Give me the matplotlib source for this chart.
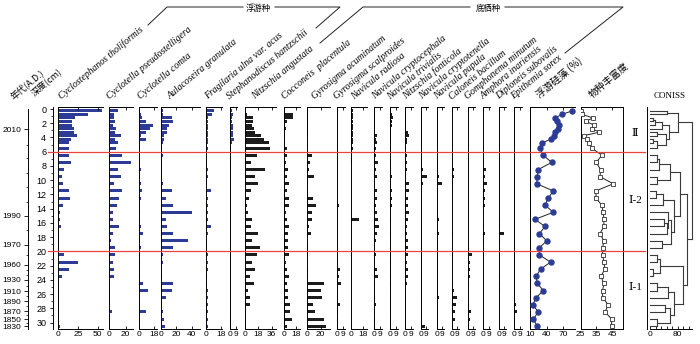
import matplotlib
matplotlib.use("Agg")
import matplotlib.pyplot as plt
from matplotlib.lines import Line2D
from matplotlib.transforms import blended_transform_factory

# -----------------------------
# Data
# -----------------------------

depths = [0.25, 0.75, 1.25, 1.75, 2.25, 2.75, 3.25, 3.75, 4.25, 4.75, 5.5,
          6.5, 7.5, 8.5, 9.5, 10.5, 11.5, 12.5, 13.5, 14.5, 15.5, 16.5, 17.5, 18.5, 19.5,
          20.5, 21.5, 22.5, 23.5, 24.5, 25.5, 26.5, 27.5, 28.5, 29.5, 30.5]

# planktonic taxa (%)
cyclostephanos = [55, 38, 21, 18, 17, 20, 20, 24, 16, 13, 13,
                  13, 16, 7, 5, 6, 13, 15, 6, 2, 2.5, 4, 1, 1, 1,
                  7, 25, 13, 5, 0.5, 0.5, 0.8, 0.8, 1, 1, 2.5]
pseudostelligera = [10, 6, 6, 7, 5, 8, 7, 14, 7, 10, 8,
                    15, 26, 11, 14, 6, 15, 12, 9, 4, 4, 12, 4, 2, 7,
                    7, 5, 6, 6, 1, 1, 1, 1, 3, 1, 1]
comta = [1, 2, 3, 8, 17, 13, 8, 2, 8, 1, 1,
         0.5, 1, 2, 1, 2, 3, 2.5, 1, 0.5, 0.5, 2.5, 4, 0.5, 2,
         0.5, 0.5, 0.5, 0.5, 4, 11, 1, 1, 8, 1, 1]
aulacoseira = [3, 3, 14, 15, 10, 8, 8, 4, 4, 2, 1,
               2, 1, 1, 1, 3, 14, 7, 16, 41, 6.5, 8, 15, 35, 16,
               2, 2, 1, 1, 16, 14, 6.5, 1, 2, 3.5, 5]
fragilaria = [10, 7, 3, 3, 3, 3, 3, 3, 2.5, 2.5, 2,
              1, 1, 2, 2, 1, 6, 3, 2, 2, 2, 6, 2, 1, 1,
              2, 2, 2, 1, 1, 2, 2.5, 2.5, 2, 2.5, 2.5]
stephanodiscus = [2.5, 5, 3.5, 3.5, 5, 5, 5, 4, 7, 3.5, 2,
                  0.5, 1, 0.3, 0.3, 0.3, 0.3, 0.3, 0.3, 0.3, 0.3, 0.3, 0.3, 0.3, 0.3,
                  0.3, 0.3, 0.3, 0.3, 0.3, 0.3, 0.3, 0.3, 0.3, 1, 1]

# benthic taxa (%)
angustata = [2, 3, 11, 11, 9, 12, 13, 21, 25, 33, 34,
             16, 8, 27, 13, 17, 8, 5, 3, 4, 10, 8, 18, 10, 20,
             16, 9, 13, 7, 12, 4, 7, 7, 1, 1, 1]
cocconeis = [1.5, 13, 13, 4, 2, 3.5, 2, 1, 0.5, 1.5, 4,
             5, 2.5, 6.5, 4, 8, 5, 8, 7, 3.5, 4.5, 8, 6, 6.5, 6,
             8, 3.5, 5, 8, 4.5, 6, 6, 9, 9, 11.5, 4.5]
g_acuminatum = [1, 1.5, 1.5, 1.5, 1.5, 2.5, 1.5, 1, 1, 1, 1,
                7.5, 5, 3.5, 10.5, 2, 1, 8.5, 13, 7.5, 7, 3, 6, 1, 2.5,
                1, 0.5, 2.5, 2, 24, 21, 22, 8.5, 12.5, 25, 28]
g_scalproides = [0, 0, 0, 0, 0, 0, 0, 0, 0, 0, 0,
                 0.3, 0.3, 0.3, 0.3, 0.3, 0.3, 0.3, 3.5, 0.3, 0.3, 0.3, 0.3, 0.3, 0.3,
                 0.3, 0.3, 5, 4, 6, 1.5, 1.5, 4.5, 1.5, 2, 1]
radiosa = [2.5, 3.5, 3.5, 3.5, 3.5, 3.5, 3.5, 3.5, 3.5, 3.5, 2.5,
           0.5, 1, 0.5, 0.5, 0.5, 0.5, 0.5, 0.5, 0.5, 12, 0.5, 0.5, 0.5, 0.5,
           0.5, 0.5, 0.5, 0.5, 0.5, 0.5, 0.5, 0.5, 0.5, 0.5, 0.5]
cryptocephala = [0.5, 0.5, 0.5, 0.5, 0.5, 0.5, 0.5, 3.5, 2.5, 4, 2,
                 2.5, 6, 2, 3.5, 1.5, 3.5, 3.5, 3, 4.5, 6, 8, 4.5, 2, 1.5,
                 2.5, 1.5, 5, 5.5, 0.5, 1, 0.5, 2.5, 0.5, 0.5, 0.5]
trivialis = [1.5, 2.5, 5, 3.5, 2.5, 2, 2, 2, 2, 2, 1.5,
             2, 1.5, 0.5, 3.5, 2, 2.5, 3, 3, 0.5, 1, 0.5, 1, 0, 0.5,
             1.5, 1.5, 2, 1, 1, 0.5, 0, 2, 0.5, 0.5, 0.5]
fonticola = [1.5, 1.5, 1.5, 1.5, 1.5, 1.5, 4.5, 6, 3, 2, 1.5,
             2, 2.5, 2, 1.5, 6, 6, 3.5, 4.5, 6, 4.5, 3, 3, 4, 3.5,
             3.5, 2.5, 4, 3.5, 2.5, 1.5, 1, 1, 0.5, 0.5, 0.5]
cryptotenella = [0, 0, 0, 1, 0, 0, 0, 0, 0, 0, 1,
                 1.5, 1, 4.5, 10, 3.5, 2, 2, 2.5, 2, 1.5, 1, 1, 1, 1,
                 1, 1, 2, 1, 0.5, 0.5, 2, 1.5, 1, 1, 7]
pupula = [0.5, 1, 1, 0.5, 0.5, 0.5, 0.5, 0.5, 0.5, 0.5, 0.5,
          0.5, 0.5, 1.5, 3.5, 9, 1.5, 2.5, 1.5, 1.5, 3, 2, 4, 1, 1,
          1, 1, 1, 2, 0.5, 0.5, 3, 1, 1.5, 1, 1]
caloneis = [0, 0, 0, 0, 0, 0, 0, 0, 0, 0, 0,
            1.5, 0.5, 4, 4, 2, 0.5, 0.5, 0.5, 0.5, 0.5, 0.5, 1.5, 0.5, 0.5,
            0.5, 0.5, 0.5, 0.5, 2, 3, 8, 7, 5, 5, 0.5]
gomphonema = [0, 0, 0, 0, 0, 0, 0, 0, 0, 0, 0,
              0.3, 0.3, 0.3, 0.3, 0.3, 0.3, 0.3, 0.3, 0.3, 0.3, 0.3, 0.3, 0.3, 0.3,
              7, 3, 3.5, 3, 2, 1, 0.5, 1.5, 4.5, 3, 1.5]
amphora = [0, 0, 0, 0, 0, 0, 0, 0, 0, 0, 0.5,
           1.5, 0.5, 4.5, 3, 6, 2.5, 2, 2, 0.5, 0.3, 0.5, 3, 0.5, 0.3,
           0.3, 0.3, 0.3, 0.3, 0.3, 0.3, 0.3, 0.3, 0.3, 0.3, 0.3]
diploneis = [0, 0, 0, 0, 0, 0, 0, 0, 0, 0, 0,
             0.5, 0.5, 0.5, 0.5, 0.5, 0.5, 0.5, 0.5, 0.5, 2.5, 1.5, 9, 2, 1,
             0.5, 0.5, 1, 2.5, 1.5, 1.5, 0.5, 0.5, 0.5, 0.5, 0.5]
epithemia = [0, 0, 0, 0, 0, 0, 0, 0, 0, 0, 0,
             0, 0, 0, 0, 0, 0, 0, 0, 0, 0, 0, 0, 0, 0,
             0, 0, 0, 0, 0, 0.5, 2, 3, 5, 1.5, 1]

planktonic_pct = [86, 68, 55, 58, 63, 60, 55, 53, 47, 32, 28,
                  34, 49, 25, 23, 22, 52, 43, 37, 52, 19, 37, 27, 40, 27,
                  27, 47, 29, 21, 23, 34, 21, 15, 25, 16, 23]
richness = [25.5, 26, 32.6, 28.4, 33.4, 32, 36.8, 27, 28.8, 30.4, 32,
            38.5, 34.7, 37.7, 37.2, 45.6, 34.7, 34.7, 38.3, 39.3, 39.7, 39.7, 37.2, 39.7, 38.9,
            38.9, 39.7, 40.4, 37.7, 39.7, 38.9, 38.9, 42.5, 40.4, 44.6, 44.6]

species_names = ["Cyclostephanos tholiformis", "Cyclotella pseudostelligera", "Cyclotella comta",
                 "Aulacoseira granulata", "Fragilaria ulna var. acus", "Stephanodiscus hantzschii",
                 "Nitzschia angustata", "Cocconeis  placentula", "Gyrosigma acuminatum",
                 "Gyrosigma scalproides", "Navicula radiosa", "Navicula cryptocephala",
                 "Navicula trivialis", "Nitzschia fonticola", "Navicula cryptotenella",
                 "Navicula pupula", "Caloneis bacillum", "Gomphonema minutum",
                 "Amphora inariensis", "Diploneis subovalis", "Epithemia sorex"]
species_values = [cyclostephanos, pseudostelligera, comta, aulacoseira, fragilaria, stephanodiscus,
                  angustata, cocconeis, g_acuminatum, g_scalproides, radiosa, cryptocephala,
                  trivialis, fonticola, cryptotenella, pupula, caloneis, gomphonema,
                  amphora, diploneis, epithemia]
n_planktonic = 6

# age scale (A.D.) against depth
age_labels = ["2010", "1990", "1970", "1960", "1930", "1910", "1890", "1870", "1850", "1830"]
age_depths = [2.85, 15.0, 19.07, 21.9, 24.0, 25.6, 27.0, 28.4, 29.5, 30.5]
age_minor_depths = [5.0, 6.9, 9.0, 11.0, 13.0, 17.0, 20.5, 22.6, 23.3, 24.8, 26.3, 27.7, 29.0, 30.0]

zone_bounds = [6, 20]
zone_names = ["Ⅱ", "Ⅰ-2", "Ⅰ-1"]
zone_label_depths = [3.4, 12.8, 25.1]

# CONISS tree: (child, child, total sum of squares); leaves are sample indices
coniss_merges = [
    (0, 1, 48), (2, 3, 8), (37, 4, 15), (38, 5, 34), (6, 7, 20),
    (8, 9, 10), (41, 10, 20), (40, 42, 45), (39, 43, 55), (36, 44, 82),
    (11, 12, 19), (46, 13, 25), (14, 15, 20), (47, 48, 58), (16, 17, 17),
    (50, 18, 38), (20, 21, 40), (52, 22, 48), (19, 53, 52), (23, 24, 34),
    (54, 55, 60), (51, 56, 68), (49, 57, 87),
    (25, 26, 19), (27, 28, 8), (59, 60, 29), (29, 30, 19), (62, 31, 53),
    (32, 33, 43), (34, 35, 19), (64, 65, 58), (63, 66, 68), (61, 67, 96),
    (58, 68, 106), (45, 69, 121),
]

# -----------------------------
# Layout (pixels in a 700x344 canvas)
# -----------------------------

W, H = 700, 344
Y_TOP, Y_BOT = 107.3, 329.3
YLIM = (30.94, -0.24)

# left px, reference tick value, its px, right px, ticks, label x shift
panel_layout = [
    (58.3, 50, 97.7, 103.0, [0, 25, 50], 3),
    (109.3, 20, 125.7, 133.3, [0, 20], 0),
    (139.3, 18, 154.0, 156.7, [0, 18], 1),
    (161.0, 40, 191.7, 200.0, [0, 20, 40], 9),
    (206.0, 18, 220.7, 222.0, [0, 18], 2),
    (230.0, 9, 235.7, 237.0, [0, 9], 0),
    (245.0, 36, 271.7, 276.0, [0, 18, 36], 10),
    (284.0, 18, 296.0, 300.0, [0, 18], 1),
    (306.7, 20, 320.7, 330.0, [0, 20], 8),
    (336.7, 9, 342.7, 345.0, [0, 9], 0),
    (351.0, 18, 363.3, 366.7, [0, 18], 3),
    (374.3, 9, 380.0, 381.7, [0, 9], 0),
    (390.0, 9, 395.7, 397.5, [0, 9], 0),
    (405.3, 9, 411.0, 413.0, [0, 9], 0),
    (420.7, 9, 426.0, 428.0, [0, 9], 1),
    (436.7, 9, 442.3, 444.0, [0, 9], 0),
    (452.0, 9, 457.3, 459.5, [0, 9], 0),
    (467.7, 9, 473.3, 475.0, [0, 9], 0),
    (483.3, 9, 489.0, 490.5, [0, 9], 0),
    (498.7, 9, 504.3, 506.0, [0, 9], 0),
    (514.0, 9, 520.0, 521.5, [0, 9], 0),
]

BLUE = "#2c3c96"
DARK = "#1c1c1c"
RED = "#e8453c"

plt.rcParams["font.family"] = ["Liberation Sans", "Noto Sans CJK SC"]
plt.rcParams["axes.linewidth"] = 0.7

fig = plt.figure(figsize=(W / 100, H / 100), dpi=100)


def px_axes(x0, x1):
    return fig.add_axes([x0 / W, (H - Y_BOT) / H, (x1 - x0) / W, (Y_BOT - Y_TOP) / H])


def style_panel(ax, xlim, ticks, labels=None):
    ax.set_ylim(*YLIM)
    ax.set_xlim(*xlim)
    ax.set_yticks([])
    ax.spines["right"].set_visible(False)
    ax.set_xticks(ticks)
    ax.set_xticklabels(labels if labels is not None else [str(t) for t in ticks])
    ax.tick_params(axis="x", direction="in", top=True, bottom=True, length=2.5,
                   width=0.6, labelsize=6, pad=1.5)
    ax.patch.set_alpha(0)


def fig_text(x, y, s, **kw):
    return fig.text(x / W, 1 - y / H, s, **kw)


def fig_line(xs, ys, **kw):
    fig.add_artist(Line2D([x / W for x in xs], [1 - y / H for y in ys],
                          transform=fig.transFigure, **kw))


# species bar panels
first_ax = None
for i, (name, vals) in enumerate(zip(species_names, species_values)):
    left, tv, tpx, right, ticks, dx = panel_layout[i]
    ax = px_axes(left, right)
    xmax = tv * (right - left) / (tpx - left)
    color = BLUE if i < n_planktonic else DARK
    ax.barh(depths, vals, height=0.42, color=color, linewidth=0)
    style_panel(ax, (0, xmax), ticks)
    if first_ax is None:
        first_ax = ax
    fig_text(left + dx, 99.5, name, rotation=40, rotation_mode="anchor", ha="left",
             va="baseline", fontsize=7, family="Liberation Serif", style="italic")

# planktonic diatom percentage
ax_p = px_axes(530, 575)
ax_p.plot(planktonic_pct, depths, "-", color="#222222", lw=0.7, marker="o", ms=3.6,
          mfc=BLUE, mec=BLUE, zorder=3)
style_panel(ax_p, (10, 91), [10, 40, 70])
fig_text(540, 98.5, "浮游硅藻 (%)", rotation=40, rotation_mode="anchor", ha="left",
         va="baseline", fontsize=7, family=["Noto Sans CJK SC"])

# species richness
ax_r = px_axes(580.7, 623.3)
ax_r.plot(richness, depths, "-", color="#222222", lw=0.7, marker="s", ms=3.2,
          mfc="white", mec="#333333", mew=0.6, zorder=3)
style_panel(ax_r, (25, 52), [25, 35, 45])
ax_r.spines["right"].set_visible(True)
fig_text(592, 98.5, "物种丰富度", rotation=40, rotation_mode="anchor", ha="left",
         va="baseline", fontsize=7, family=["Noto Sans CJK SC"])

# CONISS dendrogram
ax_c = px_axes(646.7, 695)
ax_c.set_ylim(*YLIM)
ax_c.set_xlim(-9.5, (695 - 650) / 0.346)
n_leaf = len(depths)
ypos = {i: d for i, d in enumerate(depths)}
xpos = {i: 0.0 for i in range(n_leaf)}
for k, (a, b, h) in enumerate(coniss_merges):
    for c in (a, b):
        ax_c.plot([xpos[c], h], [ypos[c], ypos[c]], color="#3a3a3a", lw=0.8)
    ax_c.plot([h, h], [ypos[a], ypos[b]], color="#3a3a3a", lw=0.8)
    ypos[n_leaf + k] = (ypos[a] + ypos[b]) / 2
    xpos[n_leaf + k] = h
ax_c.set_yticks([])
for s in ("top", "right"):
    ax_c.spines[s].set_visible(False)
ax_c.spines["bottom"].set_bounds(0, 120)
ax_c.set_xticks(list(range(0, 113, 16)))
ax_c.set_xticklabels(["0" if t == 0 else ("80" if t == 80 else "") for t in range(0, 113, 16)])
ax_c.tick_params(axis="x", direction="in", length=2.5, width=0.6, labelsize=6, pad=1.5)
ax_c.patch.set_alpha(0)
fig_text(670, 98, "CONISS", ha="center", va="baseline", fontsize=6.5, family="Liberation Serif")

# depth axis
ax_d = px_axes(52.5, 53)
ax_d.set_ylim(*YLIM)
ax_d.set_xticks([])
for s in ("top", "right", "bottom"):
    ax_d.spines[s].set_visible(False)
ax_d.set_yticks(list(range(0, 31, 2)))
ax_d.set_yticks(list(range(1, 31, 2)), minor=True)
ax_d.tick_params(axis="y", which="major", direction="out", length=2.5, width=0.6, labelsize=6.5, pad=2)
ax_d.tick_params(axis="y", which="minor", direction="out", length=1.5, width=0.5)

# age axis
ax_a = px_axes(28.3, 28.8)
ax_a.set_ylim(*YLIM)
ax_a.set_xticks([])
for s in ("top", "right", "bottom"):
    ax_a.spines[s].set_visible(False)
ax_a.spines["left"].set_bounds(0, 30.9)
ax_a.set_yticks(age_depths)
ax_a.set_yticklabels(age_labels)
ax_a.set_yticks(age_minor_depths, minor=True)
ax_a.tick_params(axis="y", which="major", direction="out", length=3, width=0.6, labelsize=6, pad=2)
ax_a.tick_params(axis="y", which="minor", direction="out", length=1.5, width=0.5)

fig_text(13, 100, "年代(A.D.)", rotation=40, rotation_mode="anchor", ha="left", va="baseline",
         fontsize=6.5, family=["Noto Sans CJK SC"])
fig_text(35, 97, "深度(cm)", rotation=40, rotation_mode="anchor", ha="left", va="baseline",
         fontsize=6.5, family=["Noto Sans CJK SC"])

# zone boundaries and labels
tr = blended_transform_factory(fig.transFigure, first_ax.transData)
for zb in zone_bounds:
    fig.add_artist(Line2D([48 / W, 645 / W], [zb, zb], transform=tr, color=RED, lw=0.9, zorder=5))
for zn, zd in zip(zone_names, zone_label_depths):
    fig.text(635 / W, zd, zn, transform=tr, ha="center", va="center", fontsize=8,
             family=["Liberation Serif", "DejaVu Serif"])

# group headers
fig_line([148, 167, 243], [25, 7, 7], color="#222222", lw=0.7)
fig_line([275, 340, 316], [7, 7, 28], color="#222222", lw=0.7)
fig_text(258, 8, "浮游种", ha="center", va="center", fontsize=6, family=["Noto Sans CJK SC"])
fig_line([320, 363, 470], [43, 7, 7], color="#222222", lw=0.7)
fig_line([505, 623, 565], [7, 7, 53], color="#222222", lw=0.7)
fig_text(488, 8, "底栖种", ha="center", va="center", fontsize=6, family=["Noto Sans CJK SC"])

fig.savefig("out.png", dpi=100)
